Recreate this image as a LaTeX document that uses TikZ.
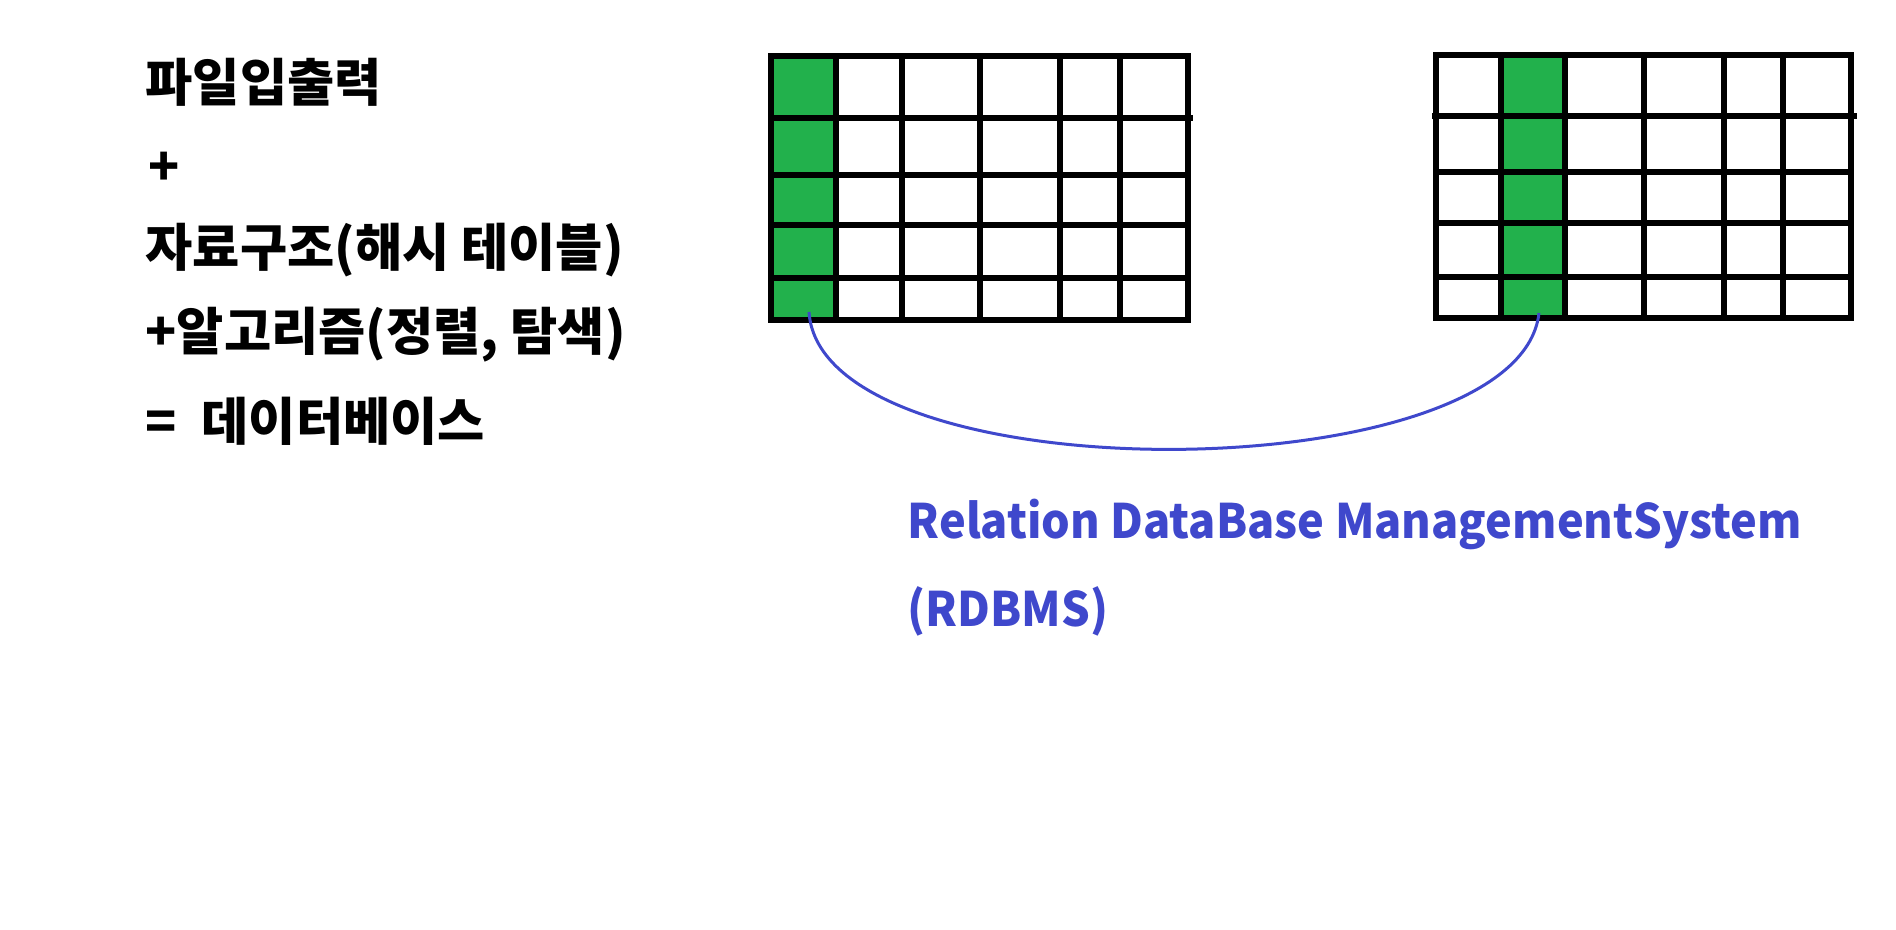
\documentclass[tikz,border=0pt]{standalone}
\usepackage{fontspec}
\newfontfamily\kofont{Noto Sans CJK KR}
\newfontfamily\relfont{Noto Sans CJK KR}[FakeStretch=0.95]
\definecolor{keygreen}{RGB}{34,177,76}
\definecolor{relblue}{RGB}{63,72,204}
\tikzset{
  gridline/.style={line width=0.055cm},
  link/.style={draw=relblue, line width=0.03cm},
  txt/.style={anchor=west, inner sep=0pt, font=\kofont\bfseries\fontsize{14.6pt}{17pt}\selectfont},
  reltxt/.style={anchor=base west, inner sep=0pt, text=relblue, font=\relfont\bfseries\fontsize{13.5pt}{16pt}\selectfont}
}

\begin{document}
\begin{tikzpicture}[x=0.01cm, y=-0.01cm]
  \useasboundingbox (0,0) rectangle (1896,929);
  %left table, key in first column
  \fill[keygreen] (771,56) rectangle (836,320);
  \foreach \x in {836,902,980,1060,1120}
    \draw[gridline] (\x,56) -- (\x,320);
  \foreach \y in {175,225,278}
    \draw[gridline] (771,\y) -- (1190,\y);
  \draw[gridline] (768,118) -- (1193,118);
  \draw[gridline] (771,56) rectangle (1188,320);
  %right table, key in second column
  \fill[keygreen] (1501,55) rectangle (1565,318);
  \foreach \x in {1501,1565,1644,1724,1783}
    \draw[gridline] (\x,55) -- (\x,318);
  \foreach \y in {172,223,277}
    \draw[gridline] (1436,\y) -- (1853,\y);
  \draw[gridline] (1432,116) -- (1857,116);
  \draw[gridline] (1436,55) rectangle (1851,318);

  %relation between the key columns
  \coordinate (keyL) at (809,312);
  \coordinate (keyR) at (1539,313);
  \draw[link] (keyL) .. controls +(12,185) and +(-20,180) .. (keyR);

  %text on the left
  \node[txt] (fileio) at (145,82) {파일입출력};
  \node[txt] (plus) at (148,169) {+};
  \node[txt] (struct) at (145,250) {자료구조(해시 테이블)};
  \node[txt] (algo) at (145,335) {+알고리즘(정렬, 탐색)};
  \node[txt] (db) at (145,421) {= \hspace{.25em}데이터베이스};

  \node[reltxt] (rdbms) at (907,538) {Relation DataBase ManagementSystem};
  \node[reltxt] (abbr) at (907,626) {(RDBMS)};
\end{tikzpicture}
\end{document}
